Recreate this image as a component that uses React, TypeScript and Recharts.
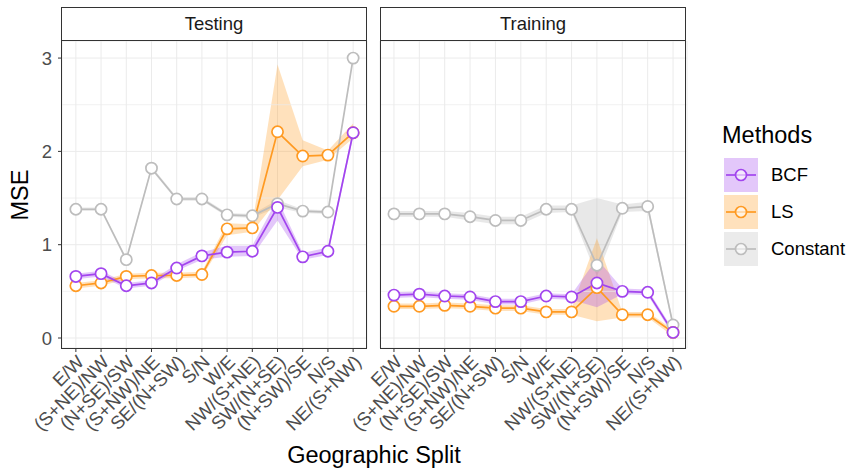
import React from "react";
import { ComposedChart, Line, Area, XAxis, YAxis, CartesianGrid, ReferenceLine } from "recharts";

const splits = [
  "E/W",
  "(S+NE)/NW",
  "(N+SE)/SW",
  "(S+NW)/NE",
  "SE/(N+SW)",
  "S/N",
  "W/E",
  "NW/(S+NE)",
  "SW/(N+SE)",
  "(N+SW)/SE",
  "N/S",
  "NE/(S+NW)",
];

// Testing panel
const testBCF = [0.66, 0.69, 0.56, 0.59, 0.75, 0.88, 0.92, 0.93, 1.4, 0.87, 0.93, 2.2];
const testBCFLo = [0.63, 0.66, 0.53, 0.56, 0.72, 0.84, 0.87, 0.88, 1.26, 0.84, 0.89, 2.16];
const testBCFHi = [0.69, 0.72, 0.59, 0.62, 0.79, 0.92, 0.99, 0.99, 1.49, 0.91, 0.97, 2.24];
const testLS = [0.56, 0.59, 0.66, 0.67, 0.67, 0.68, 1.17, 1.18, 2.21, 1.95, 1.96, 2.2];
const testLSLo = [0.53, 0.56, 0.63, 0.64, 0.64, 0.65, 1.1, 1.14, 1.48, 1.84, 1.91, 2.14];
const testLSHi = [0.59, 0.62, 0.69, 0.7, 0.7, 0.71, 1.23, 1.22, 2.93, 2.12, 2.01, 2.3];
const testConst = [1.38, 1.38, 0.84, 1.82, 1.49, 1.49, 1.32, 1.31, 1.44, 1.36, 1.35, 3.0];
const testConstLo = [1.36, 1.36, 0.82, 1.8, 1.47, 1.47, 1.3, 1.29, 1.4, 1.34, 1.33, 2.98];
const testConstHi = [1.4, 1.4, 0.86, 1.84, 1.51, 1.51, 1.34, 1.33, 1.48, 1.38, 1.37, 3.02];

// Training panel
const trainBCF = [0.46, 0.47, 0.45, 0.44, 0.39, 0.39, 0.45, 0.44, 0.59, 0.5, 0.49, 0.06];
const trainBCFLo = [0.43, 0.44, 0.42, 0.41, 0.36, 0.36, 0.42, 0.41, 0.33, 0.47, 0.46, 0.03];
const trainBCFHi = [0.49, 0.5, 0.48, 0.47, 0.42, 0.42, 0.48, 0.47, 0.85, 0.53, 0.52, 0.09];
const trainLS = [0.34, 0.34, 0.35, 0.34, 0.32, 0.32, 0.28, 0.28, 0.54, 0.25, 0.25, 0.06];
const trainLSLo = [0.31, 0.31, 0.32, 0.31, 0.29, 0.29, 0.25, 0.25, 0.18, 0.22, 0.22, 0.02];
const trainLSHi = [0.37, 0.37, 0.38, 0.37, 0.35, 0.35, 0.31, 0.31, 1.07, 0.28, 0.28, 0.09];
const trainConst = [1.33, 1.33, 1.33, 1.3, 1.26, 1.26, 1.38, 1.38, 0.78, 1.39, 1.41, 0.14];
const trainConstLo = [1.3, 1.3, 1.3, 1.26, 1.22, 1.22, 1.34, 1.35, 0.66, 1.35, 1.36, 0.11];
const trainConstHi = [1.36, 1.36, 1.36, 1.34, 1.3, 1.3, 1.42, 1.42, 1.5, 1.43, 1.46, 0.17];

const yTicks = [0, 1, 2, 3];
const yMinor = [0.5, 1.5, 2.5];

const PURPLE = "#A245EE";
const ORANGE = "#FF9A22";
const GREY = "#BDBDBD";
const FONT = "'Liberation Sans', Arial, sans-serif";
const SMALL = 18.5;
const BIG = 23.5;

const makeRows = (
  bcf: number[], bcfLo: number[], bcfHi: number[],
  ls: number[], lsLo: number[], lsHi: number[],
  cst: number[], cstLo: number[], cstHi: number[]
) =>
  splits.map((s, i) => ({
    idx: i,
    name: s,
    bcf: bcf[i],
    bcfBand: [bcfLo[i], bcfHi[i]],
    ls: ls[i],
    lsBand: [lsLo[i], lsHi[i]],
    cst: cst[i],
    cstBand: [cstLo[i], cstHi[i]],
  }));

const testRows = makeRows(testBCF, testBCFLo, testBCFHi, testLS, testLSLo, testLSHi, testConst, testConstLo, testConstHi);
const trainRows = makeRows(trainBCF, trainBCFLo, trainBCFHi, trainLS, trainLSLo, trainLSHi, trainConst, trainConstLo, trainConstHi);

const AngledTick = (props: any) => {
  const { x, y, payload } = props;
  return (
    <text
      x={x}
      y={y}
      transform={`rotate(-45 ${x} ${y})`}
      textAnchor="end"
      dy="0.7em"
      fill="#4D4D4D"
      fontSize={SMALL}
      fontFamily={FONT}
    >
      {splits[payload.value]}
    </text>
  );
};

const dotStyle = (c: string) => ({ r: 5.6, fill: "#fff", stroke: c, strokeWidth: 1.7 });

const Panel = ({ rows, showY, left, marginLeft, width }: any) => (
  <div style={{ position: "absolute", left, top: 41 }}>
    <ComposedChart
      width={width}
      height={420}
      data={rows}
      margin={{ top: 0, right: 5, bottom: 0, left: marginLeft }}
    >
      <CartesianGrid stroke="#EBEBEB" strokeWidth={1} />
      {yMinor.map((v) => (
        <ReferenceLine key={v} y={v} stroke="#EBEBEB" strokeWidth={0.7} />
      ))}
      <XAxis
        type="number"
        dataKey="idx"
        domain={[-0.55, 11.55]}
        allowDataOverflow
        ticks={splits.map((_, i) => i)}
        interval={0}
        height={113}
        axisLine={false}
        tickLine={{ stroke: "#333333" }}
        tickSize={4}
        tickMargin={2}
        tick={<AngledTick />}
      />
      <YAxis
        type="number"
        domain={[-0.107, 3.183]}
        allowDataOverflow
        ticks={yTicks}
        hide={!showY}
        width={62}
        axisLine={false}
        tickLine={{ stroke: "#333333" }}
        tickSize={4}
        tickMargin={6}
        tick={{ fill: "#4D4D4D", fontSize: SMALL, fontFamily: FONT }}
      />
      <Area type="linear" dataKey="cstBand" stroke="none" fill={GREY} fillOpacity={0.35} isAnimationActive={false} />
      <Area type="linear" dataKey="lsBand" stroke="none" fill={ORANGE} fillOpacity={0.3} isAnimationActive={false} />
      <Area type="linear" dataKey="bcfBand" stroke="none" fill={PURPLE} fillOpacity={0.3} isAnimationActive={false} />
      <Line type="linear" dataKey="cst" stroke={GREY} strokeWidth={1.7} dot={dotStyle(GREY)} activeDot={false} isAnimationActive={false} />
      <Line type="linear" dataKey="ls" stroke={ORANGE} strokeWidth={1.7} dot={dotStyle(ORANGE)} activeDot={false} isAnimationActive={false} />
      <Line type="linear" dataKey="bcf" stroke={PURPLE} strokeWidth={1.7} dot={dotStyle(PURPLE)} activeDot={false} isAnimationActive={false} />
    </ComposedChart>
  </div>
);

const Frame = ({ left, title }: { left: number; title: string }) => (
  <>
    <div
      style={{
        position: "absolute", left, top: 7, width: 306, height: 34, boxSizing: "border-box",
        border: "1.3px solid #333333", display: "flex", alignItems: "center", justifyContent: "center",
        fontSize: SMALL, color: "#1A1A1A", fontFamily: FONT, background: "#fff",
      }}
    >
      {title}
    </div>
    <div
      style={{
        position: "absolute", left, top: 40, width: 306, height: 309, boxSizing: "border-box",
        border: "1.3px solid #333333", pointerEvents: "none",
      }}
    />
  </>
);

const legendItems = [
  { label: "BCF", color: PURPLE },
  { label: "LS", color: ORANGE },
  { label: "Constant", color: GREY },
];

const Legend = () => (
  <div style={{ position: "absolute", left: 722, top: 122, fontFamily: FONT }}>
    <div style={{ fontSize: BIG, color: "#000", lineHeight: "27px", marginBottom: 7 }}>Methods</div>
    {legendItems.map((it) => (
      <div key={it.label} style={{ display: "flex", alignItems: "center", height: 37 }}>
        <svg width={36} height={34} style={{ marginLeft: 2 }}>
          <rect x={0} y={0} width={34} height={34} fill={it.color} fillOpacity={0.3} />
          <line x1={2} x2={32} y1={17} y2={17} stroke={it.color} strokeWidth={1.7} />
          <circle cx={17} cy={17} r={5.5} fill="#fff" fillOpacity={0.6} stroke={it.color} strokeWidth={1.7} />
        </svg>
        <span style={{ fontSize: SMALL, color: "#000", marginLeft: 11 }}>{it.label}</span>
      </div>
    ))}
  </div>
);

export default function App() {
  return (
    <div style={{ position: "absolute", left: 0, top: 0, width: 850, height: 470, background: "#fff", fontFamily: FONT }}>
      <Panel rows={testRows} showY left={0} marginLeft={0} width={372} />
      <Panel rows={trainRows} showY={false} left={300} marginLeft={80} width={392} />
      <Frame left={61} title="Testing" />
      <Frame left={380} title="Training" />
      <div
        style={{
          position: "absolute", left: 20, top: 195, transform: "translate(-50%, -50%) rotate(-90deg)",
          fontSize: BIG, color: "#000", whiteSpace: "nowrap",
        }}
      >
        MSE
      </div>
      <div
        style={{
          position: "absolute", left: 374, top: 455, transform: "translate(-50%, -50%)",
          fontSize: BIG, color: "#000", whiteSpace: "nowrap",
        }}
      >
        Geographic Split
      </div>
      <Legend />
    </div>
  );
}
